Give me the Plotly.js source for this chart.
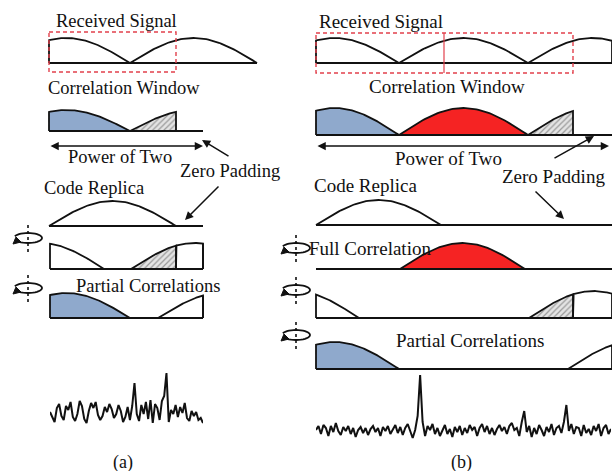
<!DOCTYPE html>
<html><head><meta charset="utf-8">
<script src="https://cdn.plot.ly/plotly-3.0.1.min.js"></script>
<style>html,body{margin:0;padding:0;background:#fff}#chart{width:612px;height:471px}</style>
</head><body><div id="chart"></div>
<script>
// ---- data ----
const noiseA = [14,8,4,18,22,10,6,20,16,24,9,5,12,25,20,7,3,15,23,18,24,11,6,10,19,14,22,17,8,12,21,15,4,9,19,6,20,43,12,5,21,12,24,7,26,3,22,18,6,25,30,53,4,16,12,21,9,19,13,23,8,5,15,10,14,6,8,3];
const noiseB = [10,14,6,15,12,4,14,8,17,9,5,13,9,14,6,12,3,10,13,7,12,5,11,14,8,12,4,13,9,14,6,11,15,7,13,5,12,16,8,2,10,24,65,18,4,14,10,16,6,12,4,9,15,6,11,3,13,8,14,5,12,7,15,10,13,4,12,16,8,14,6,12,5,11,15,9,13,6,14,17,10,12,4,18,29,8,14,3,12,6,15,10,4,13,8,16,5,12,14,7,18,35,9,16,6,13,12,4,15,7,11,5,14,9,16,4,12,15,6,11];
const labelsA = ["Received Signal","Correlation Window","Power of Two","Zero Padding","Code Replica","Partial Correlations","(a)"];
const labelsB = ["Received Signal","Correlation Window","Power of Two","Zero Padding","Code Replica","Full Correlation","Partial Correlations","(b)"];
// code periods (arches): [start, end, fill, clipRight, clipLeft]
const rowsA = [
  {base:63, h:25, x0:49, x1:257, arches:[[3,130,'none'],[130,257,'none']]},
  {base:131, h:21, x0:49, x1:203, arches:[[3,130,'blue'],[130,257,'hatch',176]]},
  {base:226, h:25, x0:49, x1:203, arches:[[49,176,'none']]},
  {base:269, h:26, x0:50, x1:203, arches:[[-23,104,'none'],[131,258,'hatch',176],[131,258,'none',null,176]]},
  {base:318, h:25, x0:50, x1:203, arches:[[3,130,'blue'],[158,285,'none']]}
];
const rowsB = [
  {base:63, h:25, x0:316, x1:612, arches:[[270,399,'none'],[399,528,'none'],[528,657,'none']]},
  {base:135, h:27, x0:316, x1:612, arches:[[270,399,'blue'],[399,528,'red'],[528,657,'hatch',573]]},
  {base:225, h:25, x0:316, x1:612, arches:[[316,441,'none']]},
  {base:269, h:26, x0:316, x1:612, arches:[[400,525,'red']]},
  {base:318, h:27, x0:316, x1:612, arches:[[230,359,'none'],[529,658,'hatch',573],[529,658,'none',null,573]]},
  {base:369, h:27, x0:316, x1:612, arches:[[270,399,'blue'],[568,697,'none']]}
];
// ---- drawing ----
const BLUE='#8fa9cc', RED='#f52323', INK='#111';
const traces=[], shapes=[], ann=[];
function archTrace(a,b,base,h,kind,clipR,clipL){
  const L=Math.max(a,clipL==null?-1e9:clipL), R=Math.min(b,clipR==null?1e9:clipR);
  const xs=[L], ys=[base];
  const n=60;
  for(let i=0;i<=n;i++){const x=L+(R-L)*i/n; xs.push(x); ys.push(base-h*Math.sin(Math.PI*(x-a)/(b-a)));}
  xs.push(R); ys.push(base);
  const t={x:xs,y:ys,mode:'lines',line:{color:INK,width:1.8},hoverinfo:'skip',xaxis:'x',yaxis:'y'};
  if(kind==='blue'){t.fill='toself';t.fillcolor=BLUE;}
  if(kind==='red'){t.fill='toself';t.fillcolor=RED;}
  if(kind==='hatch'){t.fill='toself';t.fillcolor='#e2e2e2';t.fillpattern={shape:'/',fgcolor:'#9a9a9a',bgcolor:'#e4e4e4',size:4,solidity:0.3};}
  traces.push(t);
}
function drawRows(rows){
  rows.forEach(r=>{
    shapes.push({type:'line',xref:'x',yref:'y',x0:r.x0,x1:r.x1,y0:r.base,y1:r.base,line:{color:INK,width:1.8}});
    r.arches.forEach(ar=>{
      const clipR = ar[3]!=null ? ar[3] : r.x1;
      const clipL = ar[4]!=null ? Math.max(ar[4],r.x0) : r.x0;
      archTrace(ar[0],ar[1],r.base,r.h,ar[2],clipR,clipL);
    });
  });
}
drawRows(rowsA); drawRows(rowsB);
// right closing edges of boxes in (a)
[[203,269,26,131,258],[203,318,25,158,285]].forEach(e=>{
  const [x,base,h,a,b]=e; const top=base-h*Math.sin(Math.PI*(x-a)/(b-a));
  shapes.push({type:'line',xref:'x',yref:'y',x0:x,x1:x,y0:base,y1:top,line:{color:INK,width:1.8}});
});
// red dashed correlation windows
const DASH={color:'#e2404c',width:1.4,dash:'4px,3px'};
shapes.push({type:'rect',xref:'x',yref:'y',x0:49,x1:176,y0:32,y1:72,line:DASH});
shapes.push({type:'rect',xref:'x',yref:'y',x0:316,x1:573,y0:33,y1:73,line:DASH});
shapes.push({type:'line',xref:'x',yref:'y',x0:444,x1:444,y0:33,y1:73,line:{color:'#e2404c',width:1.2}});
// rotation icons
function icon(cx,cy){
  const rx=14, ry=5; let p='';
  for(let d=160; d>=-145; d-=10){const t=d*Math.PI/180; const x=cx+rx*Math.cos(t), y=cy-ry*Math.sin(t); p+=(p?' L':'M')+x.toFixed(2)+','+y.toFixed(2);}
  shapes.push({type:'path',xref:'x',yref:'y',path:p,line:{color:INK,width:1.8}});
  const ex=cx-12, ey=cy+3;
  shapes.push({type:'path',xref:'x',yref:'y',path:`M${ex-3},${ey+3} L${ex},${ey-4} L${ex+5},${ey+1} Z`,fillcolor:INK,line:{color:INK,width:1}});
  shapes.push({type:'line',xref:'x',yref:'y',x0:cx,x1:cx,y0:cy-13,y1:cy+14,line:{color:INK,width:1.6,dash:'dot'}});
}
[[28,238],[28,288],[296,248],[296,290],[296,335]].forEach(c=>icon(c[0],c[1]));
// arrows
function arrow(tx,ty,hx,hy,both){
  ann.push({xref:'x',yref:'y',axref:'x',ayref:'y',x:hx,y:hy,ax:tx,ay:ty,text:'',showarrow:true,arrowhead:2,arrowsize:1.1,arrowwidth:1.5,arrowcolor:INK,standoff:0,startstandoff:0,arrowside:both?'end+start':'end',startarrowhead:2,startarrowsize:1.1});
}
arrow(49,146,203,146,true); arrow(316,146,609,146,true);
arrow(230,157,202,140); arrow(220,185,185,220);
arrow(553,159,594,136); arrow(534,190,564,219);
// labels
const posA=[[116.5,20.5],[124,88],[120,157],[230,171],[94,187.5],[147.5,286],[122.5,462]];
const posB=[[381,21],[447,86],[448,158],[553,176],[365,185],[370,248],[470,340],[461,462]];
labelsA.forEach((s,i)=>ann.push({xref:'x',yref:'y',x:posA[i][0],y:posA[i][1],text:s,showarrow:false,xanchor:'center',yanchor:'middle',font:{family:'Liberation Serif',size:i===6?18:18.5,color:INK}}));
labelsB.forEach((s,i)=>ann.push({xref:'x',yref:'y',x:posB[i][0],y:posB[i][1],text:s,showarrow:false,xanchor:'center',yanchor:'middle',font:{family:'Liberation Serif',size:i===7?18:19,color:INK}}));
// correlation output traces
traces.push({x:noiseA.map((v,i)=>i),y:noiseA,mode:'lines',line:{color:INK,width:2},xaxis:'x2',yaxis:'y2',hoverinfo:'skip'});
traces.push({x:noiseB.map((v,i)=>i),y:noiseB,mode:'lines',line:{color:INK,width:2},xaxis:'x3',yaxis:'y3',hoverinfo:'skip'});
const H=471,W=612;
const hid={visible:false,fixedrange:true};
const layout={width:W,height:H,margin:{l:0,r:0,t:0,b:0},paper_bgcolor:'#fff',plot_bgcolor:'rgba(0,0,0,0)',showlegend:false,
  xaxis:Object.assign({range:[0,W],domain:[0,1]},hid),
  yaxis:Object.assign({range:[H,0],domain:[0,1]},hid),
  xaxis2:Object.assign({range:[0,noiseA.length-1],domain:[50/W,203/W],anchor:'y2'},hid),
  yaxis2:Object.assign({range:[0,60],domain:[1-426/H,1-366/H],anchor:'x2'},hid),
  xaxis3:Object.assign({range:[0,noiseB.length-1],domain:[316/W,611/W],anchor:'y3'},hid),
  yaxis3:Object.assign({range:[0,70],domain:[1-440/H,1-370/H],anchor:'x3'},hid),
  shapes:shapes,annotations:ann};
Plotly.newPlot('chart',traces,layout,{staticPlot:true,displayModeBar:false});
</script></body></html>
